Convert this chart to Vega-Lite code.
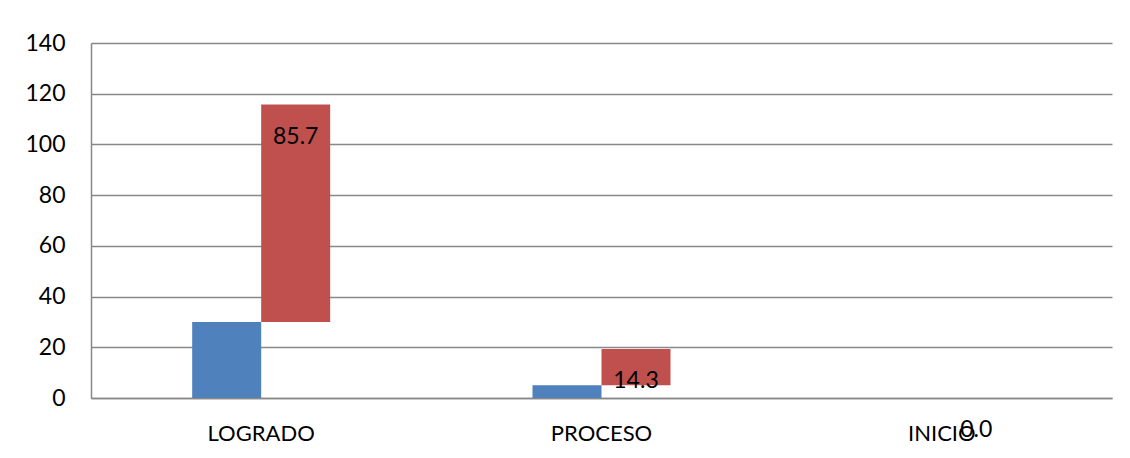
{
  "$schema": "https://vega.github.io/schema/vega-lite/v6.json",
  "autosize": "none",
  "width": 1021,
  "height": 355,
  "padding": {"left": 91, "top": 43, "right": 18, "bottom": 60},
  "background": "white",
  "data": {
    "values": [
      {"categoria": "LOGRADO", "serie": "Frecuencia", "inicio": 0, "fin": 30, "etiqueta": ""},
      {"categoria": "LOGRADO", "serie": "Porcentaje", "inicio": 30, "fin": 115.7, "etiqueta": "85.7"},
      {"categoria": "PROCESO", "serie": "Frecuencia", "inicio": 0, "fin": 5, "etiqueta": ""},
      {"categoria": "PROCESO", "serie": "Porcentaje", "inicio": 5, "fin": 19.3, "etiqueta": "14.3"},
      {"categoria": "INICIO", "serie": "Frecuencia", "inicio": 0, "fin": 0, "etiqueta": ""},
      {"categoria": "INICIO", "serie": "Porcentaje", "inicio": 0, "fin": 0, "etiqueta": "0.0"}
    ]
  },
  "encoding": {
    "x": {
      "field": "categoria",
      "type": "nominal",
      "sort": ["LOGRADO", "PROCESO", "INICIO"],
      "scale": {"paddingInner": 0.5945, "paddingOuter": 0.2973},
      "axis": {
        "title": null,
        "labelAngle": 0,
        "ticks": false,
        "domain": true,
        "domainColor": "#888888",
        "domainWidth": 1.5,
        "labelFont": "Lato",
        "labelFontSize": 22,
        "labelColor": "#000000",
        "labelPadding": 25,
        "labelDx": 5
      }
    },
    "xOffset": {
      "field": "serie",
      "type": "nominal",
      "scale": {"paddingInner": 0, "paddingOuter": 0}
    }
  },
  "layer": [
    {
      "mark": {"type": "bar"},
      "encoding": {
        "y": {
          "field": "inicio",
          "type": "quantitative",
          "scale": {"domain": [0, 140], "nice": false},
          "axis": {
            "title": null,
            "values": [0, 20, 40, 60, 80, 100, 120, 140],
            "ticks": false,
            "domain": true,
            "domainColor": "#888888",
            "domainWidth": 1.5,
            "grid": true,
            "gridColor": "#888888",
            "gridWidth": 1.5,
            "labelFont": "Lato",
            "labelFontSize": 23,
            "labelColor": "#000000",
            "labelPadding": 26
          }
        },
        "y2": {"field": "fin"},
        "color": {
          "field": "serie",
          "type": "nominal",
          "scale": {"domain": ["Frecuencia", "Porcentaje"], "range": ["#4F81BD", "#C0504D"]},
          "legend": null
        }
      }
    },
    {
      "mark": {"type": "text", "font": "Lato", "fontSize": 23, "color": "#000000", "baseline": "middle", "dy": 32},
      "encoding": {
        "y": {"field": "fin", "type": "quantitative"},
        "text": {"field": "etiqueta"}
      }
    }
  ],
  "config": {"view": {"stroke": null}}
}
